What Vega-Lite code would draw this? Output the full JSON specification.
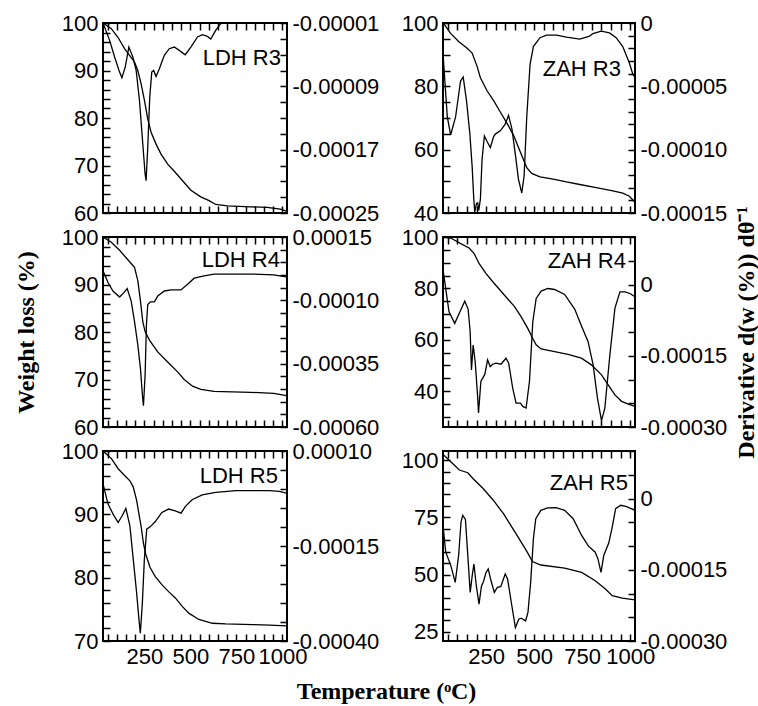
{
  "$schema": "https://vega.github.io/schema/vega-lite/v6.json",
  "padding": {"left": 13, "top": 11, "right": 0, "bottom": 0},
  "background": "white",
  "title": {"text": "Temperature (ᵒC)", "orient": "bottom", "anchor": "middle", "font": "Liberation Serif", "fontSize": 24, "fontWeight": "bold", "offset": 12},
  "columns": 2,
  "bounds": "flush",
  "align": "each",
  "spacing": {"row": 24, "column": 156},
  "datasets": {
    "ldh3_w": [{"T":25,"w":100},{"T":70,"w":98.8},{"T":106.1,"w":97},{"T":142.1,"w":94.6},{"T":169.1,"w":93.2},{"T":196.2,"w":91.8},{"T":214.2,"w":90},{"T":232.2,"w":87.2},{"T":250.2,"w":83.7},{"T":268.2,"w":79.8},{"T":286.3,"w":77},{"T":313.3,"w":74.5},{"T":340.3,"w":72.4},{"T":376.4,"w":70.3},{"T":412.4,"w":68.8},{"T":457.4,"w":66.8},{"T":502.5,"w":64.8},{"T":556.5,"w":63.4},{"T":601.6,"w":62.6},{"T":637.6,"w":61.8},{"T":700.7,"w":61.5},{"T":826.8,"w":61.3},{"T":916.9,"w":61.2},{"T":989,"w":60.8},{"T":1021.4,"w":60.4}],
    "ldh3_d": [{"T":25,"d":-0.00001},{"T":61,"d":-0.0000319},{"T":88.1,"d":-0.000053},{"T":115.1,"d":-0.000072},{"T":127.7,"d":-0.0000792},{"T":145.7,"d":-0.0000657},{"T":165.5,"d":-0.0000404},{"T":187.2,"d":-0.000053},{"T":205.2,"d":-0.0000699},{"T":223.2,"d":-0.0001079},{"T":241.2,"d":-0.0001627},{"T":253.8,"d":-0.0002007},{"T":259.2,"d":-0.0002091},{"T":268.2,"d":-0.0001669},{"T":279.1,"d":-0.0001036},{"T":289.9,"d":-0.000072},{"T":300.7,"d":-0.0000699},{"T":313.3,"d":-0.0000775},{"T":331.3,"d":-0.0000678},{"T":358.3,"d":-0.0000509},{"T":385.4,"d":-0.0000425},{"T":412.4,"d":-0.0000404},{"T":439.4,"d":-0.0000446},{"T":471.8,"d":-0.0000501},{"T":502.5,"d":-0.0000404},{"T":538.5,"d":-0.0000277},{"T":565.5,"d":-0.0000248},{"T":592.6,"d":-0.0000269},{"T":610.6,"d":-0.0000302},{"T":637.6,"d":-0.0000193},{"T":664.6,"d":-0.0000108},{"T":700.7,"d":-0.0000095},{"T":844.8,"d":-0.0000095},{"T":1025,"d":-0.0000095}],
    "zah3_w": [{"T":26.7,"w":100},{"T":64.7,"w":96.7},{"T":107.8,"w":94.1},{"T":150.9,"w":92},{"T":176.7,"w":90.5},{"T":202.6,"w":86.3},{"T":219.8,"w":82.7},{"T":254.3,"w":78.6},{"T":288.8,"w":75.5},{"T":323.3,"w":71.9},{"T":357.8,"w":68.4},{"T":392.2,"w":64.6},{"T":426.7,"w":59.4},{"T":461.2,"w":54.3},{"T":487.1,"w":52.5},{"T":530.2,"w":51.4},{"T":599.1,"w":50.7},{"T":668.1,"w":49.8},{"T":737.1,"w":49},{"T":823.3,"w":48},{"T":909.6,"w":47},{"T":961.2,"w":46.3},{"T":995.7,"w":45.3},{"T":1025,"w":43.4}],
    "zah3_d": [{"T":26.7,"d":-0.0000277},{"T":47.4,"d":-0.0000742},{"T":64.7,"d":-0.0000884},{"T":90.5,"d":-0.0000742},{"T":116.4,"d":-0.0000458},{"T":130.2,"d":-0.0000427},{"T":147.4,"d":-0.0000613},{"T":164.7,"d":-0.0000871},{"T":176.7,"d":-0.000113},{"T":185.3,"d":-0.0001389},{"T":190.5,"d":-0.0001492},{"T":199.1,"d":-0.0001427},{"T":206,"d":-0.000142},{"T":211.2,"d":-0.0001479},{"T":219.8,"d":-0.0001389},{"T":228.4,"d":-0.0001078},{"T":240.5,"d":-0.0000892},{"T":254.3,"d":-0.0000936},{"T":271.5,"d":-0.0000983},{"T":288.8,"d":-0.0000897},{"T":297.4,"d":-0.0000877},{"T":323.3,"d":-0.0000851},{"T":349.1,"d":-0.0000799},{"T":366.4,"d":-0.0000729},{"T":383.6,"d":-0.0000833},{"T":400.9,"d":-0.0001027},{"T":418.1,"d":-0.0001234},{"T":435.3,"d":-0.0001342},{"T":447.4,"d":-0.0001208},{"T":461.2,"d":-0.0000742},{"T":478.4,"d":-0.0000328},{"T":495.7,"d":-0.0000186},{"T":530.2,"d":-0.0000116},{"T":564.6,"d":-0.0000096},{"T":616.4,"d":-0.0000096},{"T":668.1,"d":-0.0000111},{"T":737.1,"d":-0.0000127},{"T":788.8,"d":-0.0000103},{"T":806,"d":-0.0000083},{"T":849.1,"d":-0.0000065},{"T":892.2,"d":-0.0000078},{"T":926.7,"d":-0.0000116},{"T":961.2,"d":-0.0000186},{"T":995.7,"d":-0.0000316},{"T":1012.9,"d":-0.0000401},{"T":1025,"d":-0.0000432}],
    "ldh4_w": [{"T":25,"w":100},{"T":70,"w":98.9},{"T":115.1,"w":97.2},{"T":160.1,"w":95.2},{"T":196.2,"w":93.6},{"T":214.2,"w":90.8},{"T":228.6,"w":86.5},{"T":241.2,"w":82.2},{"T":253.8,"w":80.1},{"T":277.3,"w":78.3},{"T":322.3,"w":75.8},{"T":376.4,"w":73.7},{"T":430.4,"w":71.6},{"T":466.4,"w":70},{"T":511.5,"w":68.6},{"T":556.5,"w":67.9},{"T":628.6,"w":67.5},{"T":826.8,"w":67.3},{"T":952.9,"w":67.1},{"T":1021.4,"w":66.6}],
    "ldh4_d": [{"T":25,"d":0.0000168},{"T":52,"d":-0.0000298},{"T":79.1,"d":-0.0000631},{"T":115.1,"d":-0.0000871},{"T":138.5,"d":-0.0000698},{"T":156.5,"d":-0.0000538},{"T":178.2,"d":-0.0001031},{"T":196.2,"d":-0.000183},{"T":214.2,"d":-0.0002762},{"T":228.6,"d":-0.0003695},{"T":239.4,"d":-0.000476},{"T":244.8,"d":-0.000516},{"T":253.8,"d":-0.0003961},{"T":261,"d":-0.0001963},{"T":268.2,"d":-0.0001164},{"T":282.7,"d":-0.0001057},{"T":304.3,"d":-0.0001057},{"T":322.3,"d":-0.0000831},{"T":358.3,"d":-0.0000631},{"T":394.4,"d":-0.0000591},{"T":448.4,"d":-0.0000591},{"T":484.5,"d":-0.0000365},{"T":520.5,"d":-0.0000125},{"T":574.5,"d":-0.0000032},{"T":628.6,"d":0.0000035},{"T":736.7,"d":0.0000035},{"T":844.8,"d":0.0000035},{"T":952.9,"d":0.0000008},{"T":1021.4,"d":-0.0000072}],
    "zah4_w": [{"T":25,"w":100},{"T":65.1,"w":99.6},{"T":117.5,"w":97.4},{"T":161.1,"w":95.7},{"T":187.3,"w":93.5},{"T":213.5,"w":89.6},{"T":248.4,"w":85.8},{"T":292,"w":81.9},{"T":344.4,"w":77.4},{"T":396.7,"w":73},{"T":431.6,"w":69},{"T":466.5,"w":64.4},{"T":492.7,"w":60.5},{"T":510.2,"w":58},{"T":536.3,"w":56.4},{"T":606.2,"w":55.4},{"T":676,"w":54.3},{"T":745.8,"w":52.8},{"T":798.1,"w":50.2},{"T":850.5,"w":46.3},{"T":885.4,"w":42.4},{"T":920.3,"w":38.5},{"T":955.2,"w":36},{"T":990.1,"w":34.9},{"T":1025,"w":34}],
    "zah4_d": [{"T":26.7,"d":0.0000266},{"T":56.4,"d":-0.0000573},{"T":86.1,"d":-0.0000818},{"T":117.5,"d":-0.0000538},{"T":138.4,"d":-0.000035},{"T":155.9,"d":-0.0000517},{"T":166.4,"d":-0.0000993},{"T":173.3,"d":-0.0001797},{"T":178.6,"d":-0.0001483},{"T":182.1,"d":-0.0001273},{"T":192.5,"d":-0.0001622},{"T":204.8,"d":-0.0002322},{"T":210,"d":-0.0002706},{"T":222.2,"d":-0.0002042},{"T":243.2,"d":-0.0001888},{"T":257.1,"d":-0.0001587},{"T":271.1,"d":-0.0001727},{"T":283.3,"d":-0.0001678},{"T":300.7,"d":-0.0001657},{"T":326.9,"d":-0.0001678},{"T":353.1,"d":-0.0001552},{"T":367.1,"d":-0.0001657},{"T":388,"d":-0.0002182},{"T":405.5,"d":-0.0002497},{"T":428.1,"d":-0.0002497},{"T":440.4,"d":-0.0002566},{"T":457.8,"d":-0.0002601},{"T":475.3,"d":-0.0002042},{"T":492.7,"d":-0.0000783},{"T":510.2,"d":-0.0000294},{"T":536.3,"d":-0.000014},{"T":571.2,"d":-0.0000084},{"T":606.2,"d":-0.0000105},{"T":658.5,"d":-0.000021},{"T":710.9,"d":-0.0000517},{"T":745.8,"d":-0.0000867},{"T":780.7,"d":-0.0001203},{"T":806.9,"d":-0.0001692},{"T":829.5,"d":-0.0002392},{"T":850.5,"d":-0.0002867},{"T":867.9,"d":-0.0002601},{"T":894.1,"d":-0.0001483},{"T":920.3,"d":-0.0000503},{"T":946.5,"d":-0.0000154},{"T":972.6,"d":-0.0000154},{"T":998.8,"d":-0.0000189},{"T":1025,"d":-0.0000259}],
    "ldh5_w": [{"T":25,"w":100},{"T":70.7,"w":98.8},{"T":107.3,"w":97.2},{"T":143.8,"w":96.1},{"T":171.2,"w":95.3},{"T":189.5,"w":94.3},{"T":207.8,"w":92.2},{"T":220.6,"w":90},{"T":231.6,"w":88.2},{"T":244.4,"w":85.5},{"T":257.2,"w":83.7},{"T":280.9,"w":81.6},{"T":308.3,"w":80.2},{"T":344.9,"w":78.9},{"T":381.5,"w":77.8},{"T":418,"w":76.8},{"T":454.6,"w":75.5},{"T":491.1,"w":74.4},{"T":546,"w":73.4},{"T":619.1,"w":72.8},{"T":692.2,"w":72.7},{"T":838.5,"w":72.6},{"T":929.9,"w":72.5},{"T":1021.3,"w":72.4}],
    "ldh5_d": [{"T":25,"d":0.0000134},{"T":52.4,"d":-0.0000396},{"T":79.8,"d":-0.0000661},{"T":107.3,"d":-0.0000882},{"T":129.2,"d":-0.0000705},{"T":149.3,"d":-0.0000511},{"T":171.2,"d":-0.000097},{"T":189.5,"d":-0.0001853},{"T":207.8,"d":-0.0002737},{"T":220.6,"d":-0.0003443},{"T":227.9,"d":-0.0003797},{"T":238.9,"d":-0.0003002},{"T":249.8,"d":-0.0001853},{"T":262.6,"d":-0.0001058},{"T":280.9,"d":-0.0000996},{"T":308.3,"d":-0.0000864},{"T":344.9,"d":-0.0000617},{"T":381.5,"d":-0.0000528},{"T":418,"d":-0.0000573},{"T":449.1,"d":-0.0000635},{"T":472.9,"d":-0.0000458},{"T":509.4,"d":-0.0000281},{"T":564.3,"d":-0.0000157},{"T":637.4,"d":-0.0000087},{"T":747.1,"d":-0.0000043},{"T":856.7,"d":-0.0000043},{"T":929.9,"d":-0.0000043},{"T":984.7,"d":-0.000006},{"T":1024.9,"d":-0.0000113}],
    "zah5_w": [{"T":25,"w":102.5},{"T":65.7,"w":99.3},{"T":110,"w":95.7},{"T":154.2,"w":94.5},{"T":180.8,"w":92},{"T":233.8,"w":87.6},{"T":286.9,"w":82.5},{"T":340,"w":76.6},{"T":366.6,"w":73},{"T":410.8,"w":67.1},{"T":463.9,"w":59.8},{"T":490.5,"w":55.7},{"T":534.7,"w":54.2},{"T":658.6,"w":52.8},{"T":747.1,"w":51},{"T":817.9,"w":47.3},{"T":871,"w":43.7},{"T":906.4,"w":40.8},{"T":959.5,"w":39.7},{"T":1025,"w":39}],
    "zah5_d": [{"T":26.8,"d":-0.0000637},{"T":39.2,"d":-0.0001131},{"T":65.7,"d":-0.0001413},{"T":88.7,"d":-0.0001766},{"T":106.4,"d":-0.0001201},{"T":118.8,"d":-0.0000496},{"T":127.7,"d":-0.0000355},{"T":141.8,"d":-0.0000439},{"T":154.2,"d":-0.0001201},{"T":166.6,"d":-0.0001977},{"T":177.2,"d":-0.0001624},{"T":186.1,"d":-0.0001378},{"T":198.5,"d":-0.0001836},{"T":212.6,"d":-0.0002224},{"T":225,"d":-0.000185},{"T":237.4,"d":-0.000173},{"T":248,"d":-0.0001568},{"T":260.4,"d":-0.0001483},{"T":272.8,"d":-0.0001695},{"T":292.3,"d":-0.0001977},{"T":308.2,"d":-0.0001871},{"T":325.9,"d":-0.0001857},{"T":348.9,"d":-0.0001589},{"T":361.3,"d":-0.0001695},{"T":380.8,"d":-0.0002189},{"T":402,"d":-0.0002718},{"T":419.7,"d":-0.0002542},{"T":432.1,"d":-0.000252},{"T":455.1,"d":-0.0002577},{"T":467.5,"d":-0.00024},{"T":481.6,"d":-0.0001765},{"T":495.8,"d":-0.0000848},{"T":508.2,"d":-0.0000425},{"T":534.7,"d":-0.0000249},{"T":570.1,"d":-0.0000199},{"T":614.4,"d":-0.0000192},{"T":658.6,"d":-0.0000249},{"T":702.9,"d":-0.0000425},{"T":747.1,"d":-0.0000778},{"T":782.5,"d":-0.0001004},{"T":817.9,"d":-0.0001131},{"T":832.1,"d":-0.0001272},{"T":848,"d":-0.0001554},{"T":862.2,"d":-0.0001201},{"T":888.7,"d":-0.0000933},{"T":906.4,"d":-0.0000602},{"T":924.1,"d":-0.0000213},{"T":950.7,"d":-0.0000143},{"T":977.2,"d":-0.0000164},{"T":1025,"d":-0.0000249}]
  },
  "concat": [
    {
      "width": 184, "height": 190,
      "title": {"text": "LDH R3", "anchor": "end", "frame": "group", "baseline": "middle", "offset": -68, "dx": -6},
      "layer": [
        {"data": {"name": "ldh3_w"}, "mark": {"type": "line", "clip": true},
         "encoding": {
           "x": {"field": "T", "type": "quantitative", "scale": {"domain": [25, 1025], "nice": false, "zero": false},
                 "axis": {"orient": "bottom", "title": null, "labels": false, "ticks": true, "zindex": 2, "tickSize": -7, "tickColor": "#000000", "tickWidth": 1.5, "values": [50,100,150,200,250,300,350,400,450,500,550,600,650,700,750,800,850,900,950,1000]}},
           "y": {"field": "w", "type": "quantitative", "scale": {"domain": [60, 100], "nice": false, "zero": false},
                 "axis": {"orient": "left", "title": null, "ticks": true, "zindex": 2, "tickSize": -7, "tickColor": "#000000", "tickWidth": 1.5, "labelPadding": 12, "values": [60,62,64,66,68,70,72,74,76,78,80,82,84,86,88,90,92,94,96,98,100], "labelExpr": "datum.value % 10 === 0 ? datum.label : ''"}}
         }},
        {"data": {"name": "ldh3_d"}, "mark": {"type": "line", "clip": true},
         "encoding": {
           "x": {"field": "T", "type": "quantitative",
                 "axis": {"orient": "top", "title": null, "labels": false, "ticks": true, "zindex": 2, "tickSize": -7, "tickColor": "#000000", "tickWidth": 1.5, "values": [50,100,150,200,250,300,350,400,450,500,550,600,650,700,750,800,850,900,950,1000]}},
           "y": {"field": "d", "type": "quantitative", "scale": {"domain": [-0.00025, -0.00001], "nice": false, "zero": false},
                 "axis": {"orient": "right", "title": null, "ticks": true, "zindex": 2, "tickSize": -7, "tickColor": "#000000", "tickWidth": 1.5, "labelPadding": 12, "values": [-0.00025,-0.00023,-0.00021,-0.00019,-0.00017,-0.00015,-0.00013,-0.00011,-0.00009,-0.00007,-0.00005,-0.00003,-0.00001],
                          "labelExpr": "indexof([-25,-17,-9,-1], round(datum.value*100000)) >= 0 ? (round(datum.value*100000) === 0 ? '0' : (datum.value < 0 ? '-' : '') + format(abs(datum.value), '.5f')) : ''"}}
         }}
      ],
      "resolve": {"scale": {"y": "independent"}, "axis": {"x": "independent"}}
    },
    {
      "width": 192, "height": 190,
      "title": {"text": "ZAH R3", "anchor": "end", "frame": "group", "baseline": "middle", "offset": -79, "dx": -14},
      "layer": [
        {"data": {"name": "zah3_w"}, "mark": {"type": "line", "clip": true},
         "encoding": {
           "x": {"field": "T", "type": "quantitative", "scale": {"domain": [25, 1025], "nice": false, "zero": false},
                 "axis": {"orient": "bottom", "title": null, "labels": false, "ticks": true, "zindex": 2, "tickSize": -7, "tickColor": "#000000", "tickWidth": 1.5, "values": [50,100,150,200,250,300,350,400,450,500,550,600,650,700,750,800,850,900,950,1000]}},
           "y": {"field": "w", "type": "quantitative", "scale": {"domain": [40, 100], "nice": false, "zero": false},
                 "axis": {"orient": "left", "title": null, "ticks": true, "zindex": 2, "tickSize": -7, "tickColor": "#000000", "tickWidth": 1.5, "labelPadding": 12, "values": [40,45,50,55,60,65,70,75,80,85,90,95,100], "labelExpr": "datum.value % 20 === 0 ? datum.label : ''"}}
         }},
        {"data": {"name": "zah3_d"}, "mark": {"type": "line", "clip": true},
         "encoding": {
           "x": {"field": "T", "type": "quantitative",
                 "axis": {"orient": "top", "title": null, "labels": false, "ticks": true, "zindex": 2, "tickSize": -7, "tickColor": "#000000", "tickWidth": 1.5, "values": [50,100,150,200,250,300,350,400,450,500,550,600,650,700,750,800,850,900,950,1000]}},
           "y": {"field": "d", "type": "quantitative", "scale": {"domain": [-0.00015, 0], "nice": false, "zero": false},
                 "axis": {"orient": "right", "title": null, "ticks": true, "zindex": 2, "tickSize": -7, "tickColor": "#000000", "tickWidth": 1.5, "labelPadding": 12, "values": [0,-0.00001,-0.00002,-0.00003,-0.00004,-0.00005,-0.00006,-0.00007,-0.00008,-0.00009,-0.0001,-0.00011,-0.00012,-0.00013,-0.00014,-0.00015],
                          "labelExpr": "indexof([0,-5,-10,-15], round(datum.value*100000)) >= 0 ? (round(datum.value*100000) === 0 ? '0' : (datum.value < 0 ? '-' : '') + format(abs(datum.value), '.5f')) : ''"}}
         }}
      ],
      "resolve": {"scale": {"y": "independent"}, "axis": {"x": "independent"}}
    },
    {
      "width": 184, "height": 190,
      "title": {"text": "LDH R4", "anchor": "end", "frame": "group", "baseline": "middle", "offset": -56, "dx": -7},
      "layer": [
        {"data": {"name": "ldh4_w"}, "mark": {"type": "line", "clip": true},
         "encoding": {
           "x": {"field": "T", "type": "quantitative", "scale": {"domain": [25, 1025], "nice": false, "zero": false},
                 "axis": {"orient": "bottom", "title": null, "labels": false, "ticks": true, "zindex": 2, "tickSize": -7, "tickColor": "#000000", "tickWidth": 1.5, "values": [50,100,150,200,250,300,350,400,450,500,550,600,650,700,750,800,850,900,950,1000]}},
           "y": {"field": "w", "type": "quantitative", "scale": {"domain": [60, 100], "nice": false, "zero": false},
                 "axis": {"orient": "left", "title": "Weight loss (%)", "titlePadding": 23, "ticks": true, "zindex": 2, "tickSize": -7, "tickColor": "#000000", "tickWidth": 1.5, "labelPadding": 12, "values": [60,62,64,66,68,70,72,74,76,78,80,82,84,86,88,90,92,94,96,98,100], "labelExpr": "datum.value % 10 === 0 ? datum.label : ''"}}
         }},
        {"data": {"name": "ldh4_d"}, "mark": {"type": "line", "clip": true},
         "encoding": {
           "x": {"field": "T", "type": "quantitative",
                 "axis": {"orient": "top", "title": null, "labels": false, "ticks": true, "zindex": 2, "tickSize": -7, "tickColor": "#000000", "tickWidth": 1.5, "values": [50,100,150,200,250,300,350,400,450,500,550,600,650,700,750,800,850,900,950,1000]}},
           "y": {"field": "d", "type": "quantitative", "scale": {"domain": [-0.0006, 0.00015], "nice": false, "zero": false},
                 "axis": {"orient": "right", "title": null, "ticks": true, "zindex": 2, "tickSize": -7, "tickColor": "#000000", "tickWidth": 1.5, "labelPadding": 12, "values": [0.00015,0.0001,0.00005,0,-0.00005,-0.0001,-0.00015,-0.0002,-0.00025,-0.0003,-0.00035,-0.0004,-0.00045,-0.0005,-0.00055,-0.0006],
                          "labelExpr": "indexof([15,-10,-35,-60], round(datum.value*100000)) >= 0 ? (round(datum.value*100000) === 0 ? '0' : (datum.value < 0 ? '-' : '') + format(abs(datum.value), '.5f')) : ''"}}
         }}
      ],
      "resolve": {"scale": {"y": "independent"}, "axis": {"x": "independent"}}
    },
    {
      "width": 192, "height": 190,
      "title": {"text": "ZAH R4", "anchor": "end", "frame": "group", "baseline": "middle", "offset": -77, "dx": -9},
      "layer": [
        {"data": {"name": "zah4_w"}, "mark": {"type": "line", "clip": true},
         "encoding": {
           "x": {"field": "T", "type": "quantitative", "scale": {"domain": [25, 1025], "nice": false, "zero": false},
                 "axis": {"orient": "bottom", "title": null, "labels": false, "ticks": true, "zindex": 2, "tickSize": -7, "tickColor": "#000000", "tickWidth": 1.5, "values": [50,100,150,200,250,300,350,400,450,500,550,600,650,700,750,800,850,900,950,1000]}},
           "y": {"field": "w", "type": "quantitative", "scale": {"domain": [26, 100], "nice": false, "zero": false},
                 "axis": {"orient": "left", "title": null, "ticks": true, "zindex": 2, "tickSize": -7, "tickColor": "#000000", "tickWidth": 1.5, "labelPadding": 12, "values": [30,35,40,45,50,55,60,65,70,75,80,85,90,95,100], "labelExpr": "datum.value % 20 === 0 ? datum.label : ''"}}
         }},
        {"data": {"name": "zah4_d"}, "mark": {"type": "line", "clip": true},
         "encoding": {
           "x": {"field": "T", "type": "quantitative",
                 "axis": {"orient": "top", "title": null, "labels": false, "ticks": true, "zindex": 2, "tickSize": -7, "tickColor": "#000000", "tickWidth": 1.5, "values": [50,100,150,200,250,300,350,400,450,500,550,600,650,700,750,800,850,900,950,1000]}},
           "y": {"field": "d", "type": "quantitative", "scale": {"domain": [-0.0003, 0.0001], "nice": false, "zero": false},
                 "axis": {"orient": "right", "title": "Derivative d(w (%)) dθ⁻¹", "titleAngle": 270, "titleBaseline": "top", "titlePadding": 8, "ticks": true, "zindex": 2, "tickSize": -7, "tickColor": "#000000", "tickWidth": 1.5, "labelPadding": 12, "values": [0.0001,0.00005,0,-0.00005,-0.0001,-0.00015,-0.0002,-0.00025,-0.0003],
                          "labelExpr": "indexof([0,-15,-30], round(datum.value*100000)) >= 0 ? (round(datum.value*100000) === 0 ? '0' : (datum.value < 0 ? '-' : '') + format(abs(datum.value), '.5f')) : ''"}}
         }}
      ],
      "resolve": {"scale": {"y": "independent"}, "axis": {"x": "independent"}}
    },
    {
      "width": 184, "height": 190,
      "title": {"text": "LDH R5", "anchor": "end", "frame": "group", "baseline": "middle", "offset": -58, "dx": -9},
      "layer": [
        {"data": {"name": "ldh5_w"}, "mark": {"type": "line", "clip": true},
         "encoding": {
           "x": {"field": "T", "type": "quantitative", "scale": {"domain": [25, 1025], "nice": false, "zero": false},
                 "axis": {"orient": "bottom", "title": null, "labels": true, "ticks": true, "zindex": 2, "tickSize": -7, "tickColor": "#000000", "tickWidth": 1.5, "labelPadding": 12, "values": [50,100,150,200,250,300,350,400,450,500,550,600,650,700,750,800,850,900,950,1000], "labelExpr": "datum.value % 250 === 0 ? '' + datum.value : ''"}},
           "y": {"field": "w", "type": "quantitative", "scale": {"domain": [70, 100], "nice": false, "zero": false},
                 "axis": {"orient": "left", "title": null, "ticks": true, "zindex": 2, "tickSize": -7, "tickColor": "#000000", "tickWidth": 1.5, "labelPadding": 12, "values": [70,72,74,76,78,80,82,84,86,88,90,92,94,96,98,100], "labelExpr": "datum.value % 10 === 0 ? datum.label : ''"}}
         }},
        {"data": {"name": "ldh5_d"}, "mark": {"type": "line", "clip": true},
         "encoding": {
           "x": {"field": "T", "type": "quantitative",
                 "axis": {"orient": "top", "title": null, "labels": false, "ticks": true, "zindex": 2, "tickSize": -7, "tickColor": "#000000", "tickWidth": 1.5, "values": [50,100,150,200,250,300,350,400,450,500,550,600,650,700,750,800,850,900,950,1000]}},
           "y": {"field": "d", "type": "quantitative", "scale": {"domain": [-0.0004, 0.0001], "nice": false, "zero": false},
                 "axis": {"orient": "right", "title": null, "ticks": true, "zindex": 2, "tickSize": -7, "tickColor": "#000000", "tickWidth": 1.5, "labelPadding": 12, "values": [0.0001,0.00005,0,-0.00005,-0.0001,-0.00015,-0.0002,-0.00025,-0.0003,-0.00035,-0.0004],
                          "labelExpr": "indexof([10,-15,-40], round(datum.value*100000)) >= 0 ? (round(datum.value*100000) === 0 ? '0' : (datum.value < 0 ? '-' : '') + format(abs(datum.value), '.5f')) : ''"}}
         }}
      ],
      "resolve": {"scale": {"y": "independent"}, "axis": {"x": "independent"}}
    },
    {
      "width": 192, "height": 190,
      "title": {"text": "ZAH R5", "anchor": "end", "frame": "group", "baseline": "middle", "offset": -65, "dx": -7},
      "layer": [
        {"data": {"name": "zah5_w"}, "mark": {"type": "line", "clip": true},
         "encoding": {
           "x": {"field": "T", "type": "quantitative", "scale": {"domain": [25, 1025], "nice": false, "zero": false},
                 "axis": {"orient": "bottom", "title": null, "labels": true, "ticks": true, "zindex": 2, "tickSize": -7, "tickColor": "#000000", "tickWidth": 1.5, "labelPadding": 12, "values": [50,100,150,200,250,300,350,400,450,500,550,600,650,700,750,800,850,900,950,1000], "labelExpr": "datum.value % 250 === 0 ? '' + datum.value : ''"}},
           "y": {"field": "w", "type": "quantitative", "scale": {"domain": [21, 104], "nice": false, "zero": false},
                 "axis": {"orient": "left", "title": null, "ticks": true, "zindex": 2, "tickSize": -7, "tickColor": "#000000", "tickWidth": 1.5, "labelPadding": 12, "values": [25,30,35,40,45,50,55,60,65,70,75,80,85,90,95,100], "labelExpr": "datum.value % 25 === 0 ? datum.label : ''"}}
         }},
        {"data": {"name": "zah5_d"}, "mark": {"type": "line", "clip": true},
         "encoding": {
           "x": {"field": "T", "type": "quantitative",
                 "axis": {"orient": "top", "title": null, "labels": false, "ticks": true, "zindex": 2, "tickSize": -7, "tickColor": "#000000", "tickWidth": 1.5, "values": [50,100,150,200,250,300,350,400,450,500,550,600,650,700,750,800,850,900,950,1000]}},
           "y": {"field": "d", "type": "quantitative", "scale": {"domain": [-0.0003, 0.0001], "nice": false, "zero": false},
                 "axis": {"orient": "right", "title": null, "ticks": true, "zindex": 2, "tickSize": -7, "tickColor": "#000000", "tickWidth": 1.5, "labelPadding": 12, "values": [0.0001,0.00005,0,-0.00005,-0.0001,-0.00015,-0.0002,-0.00025,-0.0003],
                          "labelExpr": "indexof([0,-15,-30], round(datum.value*100000)) >= 0 ? (round(datum.value*100000) === 0 ? '0' : (datum.value < 0 ? '-' : '') + format(abs(datum.value), '.5f')) : ''"}}
         }}
      ],
      "resolve": {"scale": {"y": "independent"}, "axis": {"x": "independent"}}
    }
  ],
  "config": {
    "view": {"stroke": "black", "strokeWidth": 2},
    "axis": {"domain": false, "grid": false, "labelFont": "Liberation Sans", "labelFontSize": 22, "labelColor": "black", "tickOpacity": 1, "labelPadding": 10, "labelOverlap": false, "labelFlush": false, "labelBound": false, "titleFont": "Liberation Serif", "titleFontSize": 24, "titleFontWeight": "bold", "titleColor": "black"},
    "title": {"font": "Liberation Sans", "fontSize": 22, "fontWeight": "normal", "color": "black"},
    "line": {"color": "black", "strokeWidth": 1.3}
  }
}
